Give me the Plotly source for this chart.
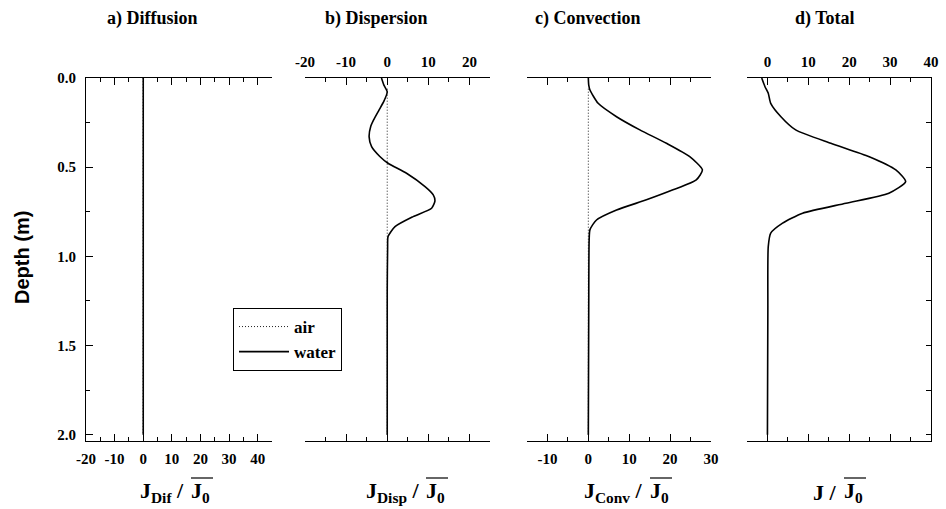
import plotly.graph_objects as go

# ---------------- data ----------------
# Diffusion (panel a)
depth_dif = [0.0, 2.0]
dif_water = [0.0, 0.0]
dif_air = [0.0, 0.0]

# Dispersion (panel b)
depth_disp = [0.0, 0.04, 0.077, 0.13, 0.18, 0.23, 0.27, 0.33, 0.385, 0.44, 0.478,
              0.534, 0.609, 0.655, 0.69, 0.73, 0.777, 0.833, 0.889, 0.945, 1.2, 2.0]
disp_water = [-1.4, -0.8, 0.0, -0.8, -2.0, -3.2, -4.0, -4.4, -3.8, -1.8, 0.2,
              4.7, 9.2, 11.2, 11.6, 10.8, 6.3, 1.9, 0.2, 0.1, 0.0, 0.0]
depth_disp_air = [0.06, 2.0]
disp_air = [0.0, 0.0]

# Convection (panel c)
depth_conv = [0.0, 0.04, 0.067, 0.142, 0.217, 0.291, 0.366, 0.441, 0.515, 0.571,
              0.627, 0.683, 0.74, 0.796, 0.85, 0.908, 1.3, 2.0]
conv_water = [0.0, 0.1, 0.4, 2.4, 6.9, 12.6, 19.1, 24.8, 27.9, 26.4,
              20.7, 14.2, 6.9, 2.0, 0.4, 0.2, 0.1, 0.0]
depth_conv_air = [0.06, 2.0]
conv_air = [0.0, 0.0]

# Total (panel d)
depth_tot = [0.0, 0.049, 0.086, 0.142, 0.217, 0.291, 0.366, 0.441, 0.515, 0.581,
             0.646, 0.702, 0.758, 0.814, 0.87, 0.945, 1.3, 2.0]
tot_water = [-1.4, -0.6, 0.2, 0.8, 3.3, 6.9, 15.5, 24.9, 31.4, 33.8,
             29.7, 19.2, 8.6, 3.7, 0.8, 0.2, 0.1, 0.0]

panel_titles = ["a) Diffusion", "b) Dispersion", "c) Convection", "d) Total"]
x_title_left = ["J<sub>Dif</sub> /", "J<sub>Disp</sub> /", "J<sub>Conv</sub> /", "J /"]
x_title_right = ["J<sub>0</sub>", "J<sub>0</sub>", "J<sub>0</sub>", "J<sub>0</sub>"]
x_ranges = [[-20, 45], [-20, 25], [-15, 30], [-5, 40]]
x_tickvals = [[-20, -10, 0, 10, 20, 30, 40], [-20, -10, 0, 10, 20],
              [-10, 0, 10, 20, 30], [0, 10, 20, 30, 40]]
x_ticktext = [["-20", "-10", "0", "10", "20", "30", "40"], ["-20", "-10", "0", "10", "20"],
              ["-10", "0", "10", "20", "30"], ["0", "10", "20", "30", "40"]]
y_range = [2.035, 0.0]
y_ticks = [0.0, 0.5, 1.0, 1.5, 2.0]
y_ticklabels = ["0.0", "0.5", "1.0", "1.5", "2.0"]

W, H = 946, 509
SERIF = "Liberation Serif"

# ---------------- figure ----------------
fig = go.Figure()

air_style = dict(color="#222222", width=1, dash="1px,2px")
water_style = dict(color="black", width=1.6, shape="spline", smoothing=0.6)

# panel a
fig.add_trace(go.Scatter(x=dif_air, y=depth_dif, mode="lines", line=air_style,
                         name="air", showlegend=True, xaxis="x", yaxis="y"))
fig.add_trace(go.Scatter(x=dif_water, y=depth_dif, mode="lines",
                         line=dict(color="black", width=1.6),
                         name="water", showlegend=True, xaxis="x", yaxis="y"))
# panel b
fig.add_trace(go.Scatter(x=disp_air, y=depth_disp_air, mode="lines", line=air_style,
                         showlegend=False, xaxis="x2", yaxis="y2"))
fig.add_trace(go.Scatter(x=disp_water, y=depth_disp, mode="lines", line=water_style,
                         showlegend=False, xaxis="x2", yaxis="y2"))
# panel c
fig.add_trace(go.Scatter(x=conv_air, y=depth_conv_air, mode="lines", line=air_style,
                         showlegend=False, xaxis="x3", yaxis="y3"))
fig.add_trace(go.Scatter(x=conv_water, y=depth_conv, mode="lines", line=water_style,
                         showlegend=False, xaxis="x3", yaxis="y3"))
# panel d
fig.add_trace(go.Scatter(x=tot_water, y=depth_tot, mode="lines", line=water_style,
                         showlegend=False, xaxis="x4", yaxis="y4"))

# domains in pixels
x_pix = [(86, 272), (305, 490), (527, 711), (747, 931)]
y_top, y_bot = 78, 441
ydom = [1 - y_bot / H, 1 - y_top / H]

tickfont = dict(family=SERIF, size=15, color="black", weight="bold")
x_sides = ["bottom", "top", "bottom", "top"]

layout = dict(
    width=W, height=H,
    margin=dict(l=0, r=0, t=0, b=0, pad=0, autoexpand=False),
    paper_bgcolor="white", plot_bgcolor="white",
    showlegend=True,
    legend=dict(x=233 / W, y=1 - 308 / H, xanchor="left", yanchor="top",
                bordercolor="black", borderwidth=1, bgcolor="white",
                font=dict(family=SERIF, size=17, color="black", weight="bold"),
                tracegroupgap=0, itemwidth=50),
)

for i in range(4):
    sfx = "" if i == 0 else str(i + 1)
    layout["xaxis" + sfx] = dict(
        domain=[x_pix[i][0] / W, x_pix[i][1] / W],
        range=x_ranges[i], anchor="y" + sfx, side=x_sides[i], automargin=False,
        showline=True, linecolor="black", linewidth=1, mirror="ticks",
        ticks="inside", ticklen=7, tickwidth=1, tickcolor="black",
        tickvals=x_tickvals[i], ticktext=x_ticktext[i],
        showgrid=False, zeroline=False,
        tickfont=tickfont, ticklabelstandoff=4,
        minor=dict(dtick=5, tick0=0, ticks="inside", ticklen=4, tickcolor="black", showgrid=False),
    )
    ydict = dict(
        domain=ydom, range=y_range, anchor="x" + sfx, automargin=False,
        showgrid=False, zeroline=False,
    )
    if i == 0:
        ydict.update(showline=True, linecolor="black", linewidth=1, side="left",
                     ticks="inside", ticklen=7, tickcolor="black",
                     tickvals=y_ticks, ticktext=y_ticklabels, tickfont=tickfont,
                     ticklabelstandoff=6,
                     minor=dict(dtick=0.25, tick0=0, ticks="inside", ticklen=4,
                                tickcolor="black", showgrid=False))
    elif i == 3:
        ydict.update(showline=True, linecolor="black", linewidth=1, side="right",
                     ticks="inside", ticklen=5, tickcolor="black",
                     dtick=0.25, tick0=0, showticklabels=False)
    else:
        ydict.update(showline=False, ticks="", showticklabels=False)
    layout["yaxis" + sfx] = ydict

fig.update_layout(**layout)

annotations = []
title_cx = [152, 376, 587, 825]
for i, t in enumerate(panel_titles):
    annotations.append(dict(x=title_cx[i] / W, y=1 - 18 / H, xref="paper", yref="paper",
                            text="<b>" + t + "</b>", showarrow=False,
                            xanchor="center", yanchor="middle",
                            font=dict(family=SERIF, size=18, color="black")))

# x-axis titles: "J_x /" right-anchored, "J0" left-anchored, overline above J0
j0_left = [189, 424, 648, 842]
bar_len = 22
shapes = []
for i in range(4):
    annotations.append(dict(x=(j0_left[i] - 3) / W, y=1 - 492 / H, xref="paper", yref="paper",
                            text="<b>" + x_title_left[i] + "</b>", showarrow=False,
                            xanchor="right", yanchor="middle",
                            font=dict(family=SERIF, size=22, color="black")))
    annotations.append(dict(x=j0_left[i] / W, y=1 - 492 / H, xref="paper", yref="paper",
                            text="<b>" + x_title_right[i] + "</b>", showarrow=False,
                            xanchor="left", yanchor="middle",
                            font=dict(family=SERIF, size=22, color="black")))
    shapes.append(dict(type="line", xref="paper", yref="paper",
                       x0=(j0_left[i] + 2) / W, x1=(j0_left[i] + 2 + bar_len) / W,
                       y0=1 - 478 / H, y1=1 - 478 / H,
                       line=dict(color="black", width=1.2)))

annotations.append(dict(x=22 / W, y=1 - 258 / H, xref="paper", yref="paper",
                        text="<b>Depth (m)</b>", showarrow=False, textangle=-90,
                        xanchor="center", yanchor="middle",
                        font=dict(family="Liberation Sans", size=20, color="black")))
fig.update_layout(annotations=annotations, shapes=shapes)

fig.write_html("out.html")
